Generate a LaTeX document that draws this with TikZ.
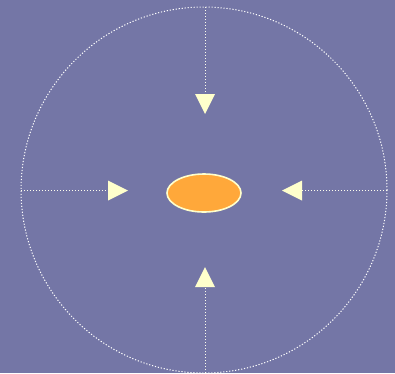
\documentclass[tikz,border=0pt]{standalone}
\usetikzlibrary{arrows.meta,shapes.geometric}
\definecolor{bgc}{HTML}{7476A6}
\definecolor{cream}{HTML}{FFFFCC}
\definecolor{dotc}{HTML}{FFFFEE}
\definecolor{orng}{HTML}{FFA83A}
\begin{document}
\begin{tikzpicture}[x=1pt,y=-1pt,
  dotline/.style={draw=dotc, line width=1pt, dash pattern=on 1.2pt off 1.8pt},
  pointer/.style={dotline, -{Triangle[length=20pt,width=20pt,fill=cream,color=cream,line width=0pt]}, shorten >=0pt},
  core/.style={ellipse, draw=cream, line width=1.6pt, fill=orng, minimum width=74pt, minimum height=38pt, inner sep=0pt}]
\fill[bgc] (0,0) rectangle (395,373);
\useasboundingbox (0,0) rectangle (395,373);
\draw[draw=white, line width=1pt, dash pattern=on 1.2pt off 1.8pt] (204,190) circle (183);
\node[core] (c) at (204,193) {};
\coordinate (t0) at (205,7);
\coordinate (t1) at (205,114);
\coordinate (b0) at (205,373);
\coordinate (b1) at (205,267);
\coordinate (l0) at (21,190.5);
\coordinate (l1) at (128,190.5);
\coordinate (r0) at (387,190.5);
\coordinate (r1) at (282,190.5);
\draw[pointer] (t0) -- (t1);
\draw[pointer] (b0) -- (b1);
\draw[pointer] (l0) -- (l1);
\draw[pointer] (r0) -- (r1);
\end{tikzpicture}
\end{document}
